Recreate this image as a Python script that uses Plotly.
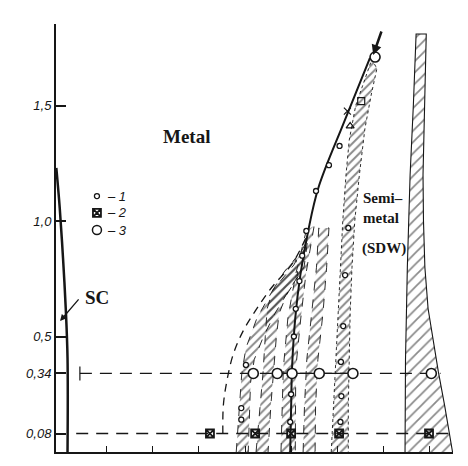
import plotly.graph_objects as go

# ---------------- data (H in kOe, T in K) ----------------
sc_H = [-0.91, -0.17, 0.54, 1.13, 1.52, 1.52]
sc_T = [1.23, 1.056, 0.84, 0.623, 0.407, 0.0]

main_H = [67.1, 61.5, 55.9, 53.7, 52.0, 50.9, 50.2, 50.0, 49.8]
main_T = [1.706, 1.429, 1.143, 0.957, 0.766, 0.580, 0.364, 0.190, 0.0]

env_H = [35.2, 35.3, 36.0, 37.4, 39.5, 42.2, 45.7, 50.4, 53.7]
env_T = [0.08, 0.2, 0.3, 0.42, 0.52, 0.61, 0.71, 0.82, 0.95]

bandA_H = [38.1, 38.8, 39.3, 40.2, 42.6, 46.0, 50.6, 53.6, 52.8, 49.5, 46.5, 44.0, 42.0, 41.2, 40.9, 40.7]
bandA_T = [0.0, 0.2, 0.34, 0.45, 0.58, 0.70, 0.81, 0.92, 0.8, 0.70, 0.60, 0.50, 0.40, 0.30, 0.15, 0.0]

bandB_H = [42.4, 43.3, 43.9, 44.4, 44.8, 46.0, 48.5, 51.0, 51.5, 49.0, 47.4, 46.8, 46.1, 45.6, 45.0]
bandB_T = [0.0, 0.2, 0.34, 0.5, 0.62, 0.70, 0.78, 0.84, 0.76, 0.68, 0.6, 0.5, 0.34, 0.2, 0.0]

bandC_H = [47.8, 48.1, 48.3, 49.3, 51.0, 53.3, 55.0, 53.2, 52.1, 51.0, 50.9, 50.9]
bandC_T = [0.0, 0.2, 0.36, 0.58, 0.77, 0.96, 0.98, 0.77, 0.58, 0.36, 0.2, 0.0]

bandD_H = [52.6, 52.9, 53.4, 54.5, 55.5, 56.0, 58.2, 57.7, 56.9, 55.8, 55.3, 55.2]
bandD_T = [0.0, 0.2, 0.4, 0.6, 0.8, 0.97, 0.97, 0.8, 0.6, 0.4, 0.2, 0.0]

bandE_H = [58.7, 59.2, 59.6, 60.2, 60.6, 61.2, 61.9, 62.6, 64.0, 66.0, 67.5,
           68.6, 67.4, 66.0, 64.8, 63.8, 63.2, 62.8, 62.6, 62.4, 62.4]
bandE_T = [0.0, 0.2, 0.4, 0.6, 0.8, 1.0, 1.2, 1.35, 1.5, 1.62, 1.7,
           1.66, 1.55, 1.4, 1.2, 1.0, 0.8, 0.6, 0.4, 0.2, 0.0]

bandF_H = [74.7, 74.8, 75.2, 75.8, 76.5, 77.1, 79.3, 79.0, 78.6, 78.7, 79.0, 79.7, 80.8, 81.9, 83.3, 85.0]
bandF_T = [0.0, 0.4, 0.8, 1.2, 1.5, 1.81, 1.81, 1.5, 1.2, 1.0, 0.8, 0.62, 0.48, 0.35, 0.2, 0.0]

line34_H = [4.2, 82.4]
line34_T = [0.34, 0.34]
solid34_H = [47.0, 63.4]
start34_H = [4.2, 4.2]
start34_T = [0.31, 0.37]
line08_H = [3.4, 84.5]
line08_T = [0.08, 0.08]

s1_H = [60.5, 58.2, 55.4, 53.3, 52.4, 51.8, 51.0, 50.6, 50.0, 49.8,
        62.4, 61.7, 61.3, 60.8, 60.9, 60.7, 40.2, 39.2, 39.2]
s1_T = [1.325, 1.242, 1.13, 0.957, 0.85, 0.74, 0.62, 0.50, 0.25, 0.13,
        0.97, 0.766, 0.545, 0.39, 0.242, 0.13, 0.377, 0.19, 0.14]

s2_H = [32.4, 42.2, 50.0, 60.4, 79.9]
s2_T = [0.08, 0.08, 0.08, 0.08, 0.08]

s3_H = [41.8, 47.0, 50.2, 56.1, 63.4, 80.4, 68.2]
s3_T = [0.34, 0.34, 0.34, 0.34, 0.34, 0.34, 1.71]

other_H = [62.2, 62.8, 65.2]
other_T = [1.476, 1.411, 1.519]
other_sym = ["x-thin-open", "triangle-up-open", "square-open"]

ytick_vals = [0.08, 0.34, 0.5, 1.0, 1.5]
ytick_text = ["0,08", "0,34", "0,5", "1,0", "1,5"]
xtick_vals = [10, 20, 30, 40, 50, 60, 70, 80]
xlab_H = [-2.2, 9.5, 29.5, 48.3, 69.4]
xlab_text = ["0", "10", "30", "50", "70"]

leg_H = 7.9
leg_T = [1.108, 1.035, 0.961]
leg_text = ["1", "2", "3"]

INK = "#161616"
SERIF = "Liberation Serif"
SANS = "Liberation Sans"

fig = go.Figure()

def band(h, t, dash="dash", width=0.9, size=6, solidity=0.33):
    fig.add_trace(go.Scatter(
        x=h, y=t, mode="lines", fill="toself",
        fillcolor="rgba(0,0,0,0)",
        fillpattern=dict(shape="/", fgcolor=INK, bgcolor="rgba(255,255,255,0)",
                         size=size, solidity=solidity),
        line=dict(color=INK, width=width, dash=dash),
        hoverinfo="skip"))

band(bandA_H, bandA_T)
band(bandB_H, bandB_T)
band(bandC_H, bandC_T)
band(bandD_H, bandD_T)
band(bandE_H, bandE_T, dash="dot")
band(bandF_H, bandF_T, dash="solid", width=1.1, size=8, solidity=0.22)

# SC boundary
fig.add_trace(go.Scatter(x=sc_H, y=sc_T, mode="lines", line=dict(color=INK, width=2.5, shape="spline")))
# envelope dashed curve
fig.add_trace(go.Scatter(x=env_H, y=env_T, mode="lines", line=dict(color=INK, width=1.3, dash="8px,6px", shape="spline")))
# horizontal lines
fig.add_trace(go.Scatter(x=line34_H, y=line34_T, mode="lines", line=dict(color=INK, width=1.3, dash="12px,8px")))
fig.add_trace(go.Scatter(x=solid34_H, y=line34_T, mode="lines", line=dict(color=INK, width=1.3)))
fig.add_trace(go.Scatter(x=start34_H, y=start34_T, mode="lines", line=dict(color=INK, width=1.2)))
fig.add_trace(go.Scatter(x=line08_H, y=line08_T, mode="lines", line=dict(color=INK, width=1.3, dash="12px,8px")))
# main boundary
fig.add_trace(go.Scatter(x=main_H, y=main_T, mode="lines", line=dict(color=INK, width=2, shape="spline")))

# markers
fig.add_trace(go.Scatter(x=s1_H, y=s1_T, mode="markers",
                         marker=dict(symbol="circle", size=5, color="white", line=dict(width=1.3, color=INK))))
fig.add_trace(go.Scatter(x=s2_H, y=s2_T, mode="markers",
                         marker=dict(symbol="square-x-open", size=8, color=INK, line=dict(width=1.8))))
fig.add_trace(go.Scatter(x=s3_H, y=s3_T, mode="markers",
                         marker=dict(symbol="circle", size=10, color="white", line=dict(width=1.6, color=INK))))
fig.add_trace(go.Scatter(x=other_H, y=other_T, mode="markers",
                         marker=dict(symbol=other_sym, size=7, color=INK, line=dict(width=1.2, color=INK))))
# legend markers
fig.add_trace(go.Scatter(x=[leg_H], y=[leg_T[0]], mode="markers",
                         marker=dict(symbol="circle-open", size=5, color=INK, line=dict(width=1.3))))
fig.add_trace(go.Scatter(x=[leg_H], y=[leg_T[1]], mode="markers",
                         marker=dict(symbol="square-x-open", size=8, color=INK, line=dict(width=1.8))))
fig.add_trace(go.Scatter(x=[leg_H], y=[leg_T[2]], mode="markers",
                         marker=dict(symbol="circle-open", size=9, color=INK, line=dict(width=1.5))))

ann = []
for txt, t in zip(leg_text, leg_T):
    ann.append(dict(x=9.7, y=t, text="– " + txt, showarrow=False, xanchor="left",
                    font=dict(family=SANS, size=13, color=INK, style="italic")))
for txt, h in zip(xlab_text, xlab_H):
    ann.append(dict(x=h, y=-0.056, text=txt, showarrow=False,
                    font=dict(family=SANS, size=13, color=INK, style="italic")))
ann += [
    dict(x=-5.75, y=1.823, text="T, K", showarrow=False,
         font=dict(family=SANS, size=14, color=INK, style="italic")),
    dict(x=77.3, y=-0.056, text="H,", showarrow=False, xanchor="center",
         font=dict(family=SANS, size=13, color=INK, style="italic")),
    dict(x=85.7, y=-0.056, text="<b>kOe</b>", showarrow=False, xanchor="center",
         font=dict(family=SERIF, size=16, color=INK)),
    dict(x=21.8, y=1.364, text="<b>Metal</b>", showarrow=False, xanchor="left",
         font=dict(family=SERIF, size=19, color=INK)),
    dict(x=65.2, y=1.10, text="<b>Semi–</b>", showarrow=False, xanchor="left",
         font=dict(family=SERIF, size=15, color=INK)),
    dict(x=65.2, y=1.013, text="<b>metal</b>", showarrow=False, xanchor="left",
         font=dict(family=SERIF, size=15, color=INK)),
    dict(x=64.9, y=0.883, text="<b>(SDW)</b>", showarrow=False, xanchor="left",
         font=dict(family=SERIF, size=15, color=INK)),
    dict(x=4.9, y=0.667, text="<b>SC</b>", showarrow=False, xanchor="left",
         font=dict(family=SERIF, size=19, color=INK)),
    dict(x=-0.1, y=0.567, ax=4.2, ay=0.667, axref="x", ayref="y", text="",
         showarrow=True, arrowhead=2, arrowsize=1, arrowwidth=1.3, arrowcolor=INK),
    dict(x=67.8, y=1.719, ax=69.7, ay=1.827, axref="x", ayref="y", text="",
         showarrow=True, arrowhead=2, arrowsize=0.8, arrowwidth=2.5, arrowcolor=INK),
]

fig.update_layout(
    width=468, height=466,
    margin=dict(l=48, r=23, t=16, b=22),
    paper_bgcolor="white", plot_bgcolor="white",
    showlegend=False,
    annotations=ann,
    xaxis=dict(range=[-0.98, 85.1], showline=True, linewidth=1.5, linecolor=INK,
               ticks="inside", ticklen=6, tickwidth=1.2, tickcolor=INK,
               tickvals=xtick_vals, showticklabels=False,
               showgrid=False, zeroline=False),
    yaxis=dict(range=[0, 1.853], showline=True, linewidth=2, linecolor=INK,
               ticks="inside", ticklen=10, tickwidth=1.5, tickcolor=INK,
               tickvals=ytick_vals, ticktext=ytick_text,
               tickfont=dict(family=SANS, size=13, color=INK, style="italic"),
               showgrid=False, zeroline=False),
)

fig.write_html("out.html")
